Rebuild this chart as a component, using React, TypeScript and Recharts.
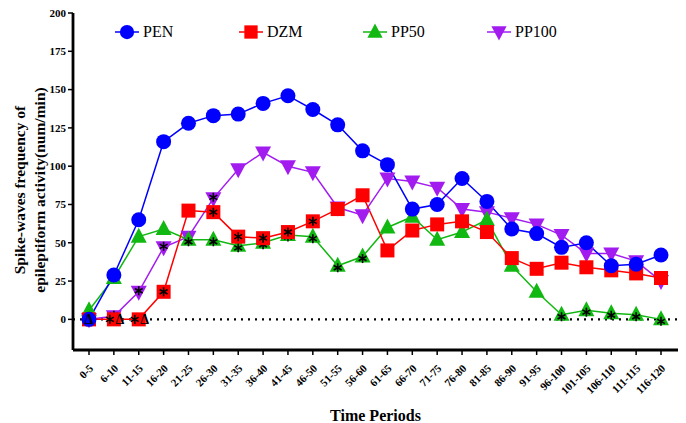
import React from "react";
import {
  LineChart, Line, XAxis, YAxis, ReferenceLine,
} from "recharts";

const periods = [
  "0-5", "6-10", "11-15", "16-20", "21-25", "26-30", "31-35", "36-40",
  "41-45", "46-50", "51-55", "56-60", "61-65", "66-70", "71-75", "76-80",
  "81-85", "86-90", "91-95", "96-100", "101-105", "106-110", "111-115", "116-120",
];

const pen = [0, 29, 65, 116, 128, 133, 134, 141, 146, 137, 127, 110, 101, 72, 75, 92, 77, 59, 56, 47, 50, 35, 36, 42];
const dzm = [0, 0, 0, 18, 71, 70, 54, 53, 57, 64, 72, 81, 45, 58, 62, 64, 57, 40, 33, 37, 34, 32, 30, 27];
const pp50 = [6, 27, 54, 59, 52, 52, 48, 50, 55, 54, 35, 41, 60, 67, 52, 57, 65, 35, 18, 3, 6, 4, 3, 0];
const pp100 = [0, 2, 18, 47, 54, 79, 98, 109, 100, 96, 73, 68, 92, 90, 86, 72, 70, 66, 62, 55, 43, 43, 38, 25];

// significance marks drawn over the markers ("*" vs control, "Δ" vs DZM)
const penMarks = ["Δ", "", "", "", "", "", "", "", "", "", "", "", "", "", "", "", "", "", "", "", "", "", "", ""];
const dzmMarks = ["", "*Δ", "*Δ", "*", "", "*", "*", "*", "*", "*", "", "", "", "", "", "", "", "", "", "", "", "", "", ""];
const pp50Marks = ["", "", "", "", "*", "*", "*", "*", "*", "*", "*", "*", "", "", "", "", "", "", "", "*", "*", "*", "*", "*"];
const pp100Marks = ["", "*", "*", "*", "", "*", "", "", "", "", "", "", "", "", "", "", "", "", "", "", "", "", "", ""];

const yTicks = [0, 25, 50, 75, 100, 125, 150, 175, 200];

const data = periods.map((p, i) => ({
  period: p,
  PEN: pen[i],
  DZM: dzm[i],
  PP50: pp50[i],
  PP100: pp100[i],
}));

const SERIF = "'Liberation Serif', 'DejaVu Serif', serif";

type Shape = "circle" | "square" | "up" | "down";

function markerShape(shape: Shape, cx: number, cy: number, color: string, s = 1) {
  if (shape === "circle") return <circle cx={cx} cy={cy} r={7.5 * s} fill={color} />;
  if (shape === "square")
    return <rect x={cx - 7 * s} y={cy - 7 * s} width={14 * s} height={14 * s} fill={color} />;
  if (shape === "up")
    return (
      <polygon
        points={`${cx},${cy - 9 * s} ${cx - 8 * s},${cy + 6 * s} ${cx + 8 * s},${cy + 6 * s}`}
        fill={color}
      />
    );
  return (
    <polygon
      points={`${cx - 8 * s},${cy - 6 * s} ${cx + 8 * s},${cy - 6 * s} ${cx},${cy + 9 * s}`}
      fill={color}
    />
  );
}

function Asterisk({ x, y }: { x: number; y: number }) {
  const r = 4.5;
  return (
    <g stroke="#000" strokeWidth={1.6}>
      <line x1={x} y1={y - r} x2={x} y2={y + r} />
      <line x1={x - r * 0.87} y1={y - r / 2} x2={x + r * 0.87} y2={y + r / 2} />
      <line x1={x - r * 0.87} y1={y + r / 2} x2={x + r * 0.87} y2={y - r / 2} />
    </g>
  );
}

function makeDot(shape: Shape, color: string, marks: string[]) {
  return (props: any) => {
    const { cx, cy, index } = props;
    if (cx == null || cy == null) return <g key={index} />;
    const m = marks[index] || "";
    const shiftY = shape === "up" ? 2 : shape === "down" ? -1 : 0;
    const hasStar = m.includes("*");
    const hasDelta = m.includes("Δ");
    return (
      <g key={index}>
        {markerShape(shape, cx, cy, color)}
        {hasStar && <Asterisk x={hasDelta ? cx - 4 : cx} y={cy + shiftY} />}
        {hasDelta && (
          <text
            x={hasStar ? cx + 6 : cx}
            y={cy + 5}
            textAnchor="middle"
            fontFamily={SERIF}
            fontSize={14}
            fontWeight="bold"
            fill="#000"
          >
            Δ
          </text>
        )}
      </g>
    );
  };
}

const series = [
  { key: "PP100", color: "#A21CF0", shape: "down" as Shape, marks: pp100Marks },
  { key: "PP50", color: "#12B812", shape: "up" as Shape, marks: pp50Marks },
  { key: "DZM", color: "#FF0000", shape: "square" as Shape, marks: dzmMarks },
  { key: "PEN", color: "#0000FF", shape: "circle" as Shape, marks: penMarks },
];

const legendOrder = ["PEN", "DZM", "PP50", "PP100"];

function LegendOverlay() {
  return (
    <div style={{ position: "absolute", left: 0, top: 20, width: 686, height: 26 }}>
      {legendOrder.map((k, i) => {
        const s = series.find((x) => x.key === k)!;
        return (
          <div
            key={k}
            style={{
              position: "absolute",
              left: 114 + i * 124,
              top: 0,
              display: "flex",
              alignItems: "center",
              fontFamily: SERIF,
              fontSize: 16,
              color: "#000",
            }}
          >
            <svg width={26} height={24}>
              <line x1={1} y1={12} x2={25} y2={12} stroke={s.color} strokeWidth={1.5} />
              {markerShape(s.shape, 13, 12, s.color, 0.95)}
            </svg>
            <span style={{ marginLeft: 3 }}>{k}</span>
          </div>
        );
      })}
    </div>
  );
}

function XTick(props: any) {
  const { x, y, payload } = props;
  return (
    <text
      x={x + 5}
      y={y + 12}
      transform={`rotate(-45, ${x + 5}, ${y + 12})`}
      textAnchor="end"
      fontFamily={SERIF}
      fontSize={11}
      fontWeight="bold"
      fill="#000"
    >
      {payload.value}
    </text>
  );
}

function YLabel() {
  return (
    <g>
      <text
        transform="translate(25, 190) rotate(-90)"
        textAnchor="middle"
        fontFamily={SERIF}
        fontSize={15.5}
        fontWeight="bold"
        fill="#000"
      >
        Spike-waves frequency of
      </text>
      <text
        transform="translate(45, 190) rotate(-90)"
        textAnchor="middle"
        fontFamily={SERIF}
        fontSize={15.5}
        fontWeight="bold"
        fill="#000"
      >
        epileptiform activity(num/min)
      </text>
    </g>
  );
}

export default function App() {
  return (
    <div style={{ position: "absolute", left: 0, top: 0, width: 686, height: 423, background: "#fff" }}>
      <LineChart
        width={686}
        height={423}
        data={data}
        margin={{ top: 13, right: 8, left: 23, bottom: 0 }}
      >
        <XAxis
          dataKey="period"
          interval={0}
          height={73}
          padding={{ left: 16, right: 17 }}
          tick={<XTick />}
          axisLine={{ stroke: "#000", strokeWidth: 2.8 }}
          tickLine={{ stroke: "#000", strokeWidth: 1.5 }}
          tickSize={5}
          label={{
            value: "Time Periods",
            position: "insideBottom",
            offset: 2,
            style: { fontFamily: SERIF, fontSize: 16, fontWeight: "bold", fill: "#000" },
          }}
        />
        <YAxis
          width={50}
          domain={[-20, 200]}
          ticks={yTicks}
          interval={0}
          allowDataOverflow
          axisLine={{ stroke: "#000", strokeWidth: 2.8 }}
          tickLine={{ stroke: "#000", strokeWidth: 1.5 }}
          tickSize={5}
          tick={{ fontFamily: SERIF, fontSize: 11, fontWeight: "bold", fill: "#000" }}
          label={<YLabel />}
        />
        <ReferenceLine y={0} stroke="#000" strokeWidth={2.2} strokeDasharray="2 5" />
        {series.map((s) => (
          <Line
            key={s.key}
            type="linear"
            dataKey={s.key}
            stroke={s.color}
            strokeWidth={1.5}
            dot={makeDot(s.shape, s.color, s.marks)}
            activeDot={false}
            isAnimationActive={false}
          />
        ))}
      </LineChart>
      <LegendOverlay />
    </div>
  );
}
